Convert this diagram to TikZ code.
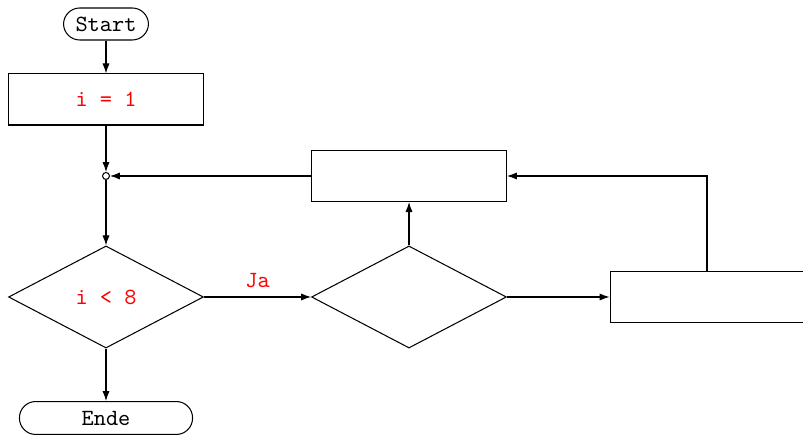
\documentclass[tikz,border=0pt]{standalone}
\usetikzlibrary{shapes.geometric,arrows.meta}
\begin{document}
\begin{tikzpicture}[x=0.431pt,y=-0.431pt,
  font=\ttfamily,
  line width=0.45pt,
  arr/.style={-{Latex[length=4.3pt,width=3.1pt]}},
  term/.style={draw,rectangle,rounded corners=7pt,inner sep=0pt},
  proc/.style={draw,rectangle,minimum width=84pt,minimum height=22pt,inner sep=0pt},
  dec/.style={draw,diamond,aspect=1.91,minimum width=84pt,minimum height=44pt,inner sep=0pt},
  junc/.style={draw,circle,fill=white,inner sep=0pt,minimum size=3pt},
  redtxt/.style={text=red}]
\useasboundingbox (0,0) rectangle (803,436);
\clip (0,0) rectangle (803,436);
\node[term,minimum width=36.6pt,minimum height=13.8pt] (start) at (106,24) {Start};
\node[proc,redtxt] (init) at (106,99.5) {i = 1};
\node[junc] (j) at (106,176) {};
\node[proc] (body) at (409,176) {};
\node[dec,redtxt] (cond) at (106,297) {i < 8};
\node[dec] (dec2) at (409,297) {};
\node[proc] (right) at (707.5,297) {};
\node[term,minimum width=74.6pt,minimum height=14.2pt] (ende) at (106,418) {Ende};
\coordinate (corner) at (707,176);

\draw[arr] (start) -- (init);
\draw[arr] (init) -- (j);
\draw[arr] (body) -- (j);
\draw[arr] (j) -- (cond);
\draw[arr] (cond) -- node[above=0.5pt,redtxt] {Ja} (dec2);
\draw[arr] (dec2) -- (body);
\draw[arr] (dec2) -- (right);
\draw[arr] (right.north -| corner) -- (corner) -- (body.east);
\draw[arr] (cond) -- (ende);
\end{tikzpicture}
\end{document}
